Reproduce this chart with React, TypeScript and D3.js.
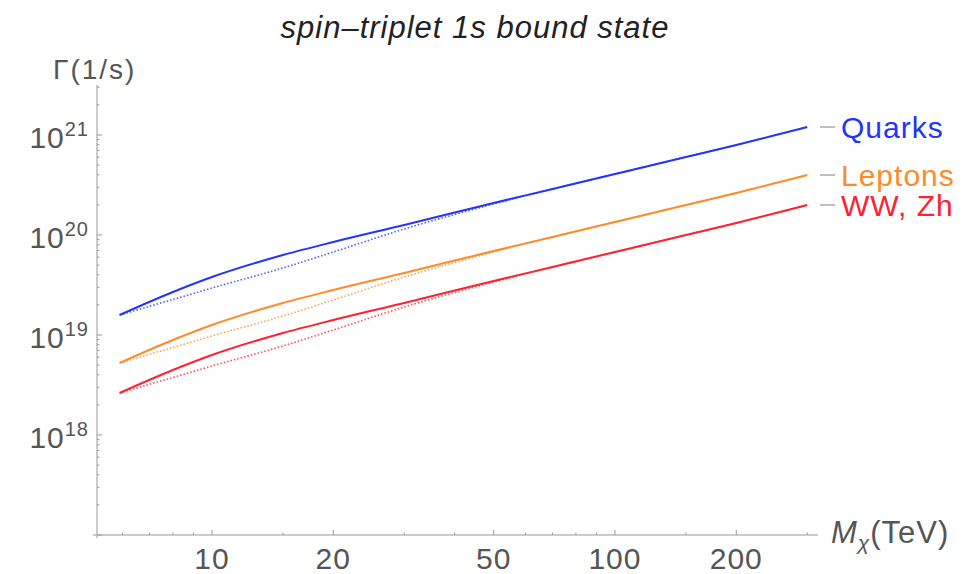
import React from "react";
import * as d3 from "d3";

// Mass points (TeV)
const masses = [5.9, 8, 10, 15, 20, 30, 50, 70, 100, 150, 200, 300];
// log10 of decay rate Γ (1/s)
const quarksSolid = [19.2, 19.43, 19.58, 19.8, 19.93, 20.1, 20.32, 20.46, 20.61, 20.78, 20.9, 21.08];
const quarksDotted = [19.2, 19.355, 19.47, 19.67, 19.83, 20.06, 20.31, 20.46, 20.61, 20.78, 20.9, 21.08];
const leptonsSolid = [18.72, 18.95, 19.1, 19.32, 19.45, 19.62, 19.84, 19.98, 20.13, 20.3, 20.42, 20.6];
const leptonsDotted = [18.72, 18.875, 18.99, 19.19, 19.35, 19.58, 19.83, 19.98, 20.13, 20.3, 20.42, 20.6];
const wwSolid = [18.42, 18.65, 18.8, 19.02, 19.15, 19.32, 19.54, 19.68, 19.83, 20.0, 20.12, 20.3];
const wwDotted = [18.42, 18.575, 18.69, 18.89, 19.05, 19.28, 19.53, 19.68, 19.83, 20.0, 20.12, 20.3];

const seriesNames = ["Quarks", "Leptons", "WW, Zh"];
const seriesColors = ["#2434ff", "#ff8a2a", "#ff2030"];

const xMajorTicks = [10, 20, 50, 100, 200];
const xMinorTicks = [6, 7, 8, 9, 15, 30, 40, 60, 70, 80, 90, 150, 300];
const yMajorExps = [17, 18, 19, 20, 21];

export default function App() {
  const W = 977, H = 574;
  const x = d3.scaleLog().domain([5.185, 319]).range([97, 818]);
  const y = d3.scaleLog().domain([1e17, Math.pow(10, 21.5)]).range([535, 85]);

  const solids = [quarksSolid, leptonsSolid, wwSolid];
  const dotteds = [quarksDotted, leptonsDotted, wwDotted];

  const line = d3
    .line<[number, number]>()
    .x((d) => x(d[0]))
    .y((d) => y(Math.pow(10, d[1])))
    .curve(d3.curveMonotoneX);

  const mk = (arr: number[]) => masses.map((m, i) => [m, arr[i]] as [number, number]);

  const yMinor: number[] = [];
  for (let e = 17; e <= 21; e++) {
    for (let k = 2; k <= 9; k++) {
      const v = k * Math.pow(10, e);
      if (v <= Math.pow(10, 21.5)) yMinor.push(v);
    }
  }

  const axisColor = "#bbbbbb";
  const tickColor = "#999999";
  const labelColor = "#555555";
  const font = "'Liberation Sans', Arial, sans-serif";

  const lastVals = solids.map((s) => s[s.length - 1]);

  return (
    <svg width={W} height={H} style={{ position: "absolute", left: 0, top: 0 }} fontFamily={font}>
      <rect x={0} y={0} width={W} height={H} fill="#fff" />
      <text x={475} y={38} textAnchor="middle" fontSize={31} letterSpacing={1} fontStyle="italic" fill="#222">
        spin–triplet 1s bound state
      </text>

      {/* axes */}
      <line x1={93} x2={818} y1={535} y2={535} stroke={axisColor} strokeWidth={1.5} />
      <line x1={97} x2={97} y1={85} y2={538} stroke={axisColor} strokeWidth={1.5} />

      {/* x ticks */}
      {xMajorTicks.map((t) => (
        <g key={"xm" + t}>
          <line x1={x(t)} x2={x(t)} y1={535} y2={530} stroke={tickColor} strokeWidth={1} />
          <text x={x(t)} y={569} textAnchor="middle" fontSize={30} letterSpacing={1} fill={labelColor}>
            {t}
          </text>
        </g>
      ))}
      {xMinorTicks.map((t) => (
        <line key={"xn" + t} x1={x(t)} x2={x(t)} y1={535} y2={532.5} stroke={tickColor} strokeWidth={1} />
      ))}

      {/* y ticks */}
      {yMajorExps.map((e) => (
        <g key={"ym" + e}>
          <line x1={97} x2={102} y1={y(Math.pow(10, e))} y2={y(Math.pow(10, e))} stroke={tickColor} strokeWidth={1} />
          {e >= 18 && (
            <text x={89} y={y(Math.pow(10, e)) + 13} textAnchor="end" fontSize={30} letterSpacing={1} fill={labelColor}>
              <tspan>10</tspan>
              <tspan dy={-12} fontSize={20}>
                {e}
              </tspan>
            </text>
          )}
        </g>
      ))}
      {yMinor.map((v, i) => (
        <line key={"yn" + i} x1={97} x2={99.5} y1={y(v)} y2={y(v)} stroke={tickColor} strokeWidth={1} />
      ))}

      {/* axis labels */}
      <text x={53} y={79} fontSize={28} letterSpacing={2} fill={labelColor}>
        Γ(1/s)
      </text>
      <text x={831} y={543} fontSize={31} letterSpacing={1} fill={labelColor}>
        <tspan fontStyle="italic">M</tspan>
        <tspan fontStyle="italic" fontSize={21} dy={7}>
          χ
        </tspan>
        <tspan dy={-7}>(TeV)</tspan>
      </text>

      {/* curves */}
      {dotteds.map((s, i) => (
        <path
          key={"d" + i}
          d={line(mk(s)) || ""}
          fill="none"
          stroke={seriesColors[i]}
          strokeWidth={1.6}
          strokeDasharray="1.5,2"
          opacity={0.8}
        />
      ))}
      {solids.map((s, i) => (
        <path key={"s" + i} d={line(mk(s)) || ""} fill="none" stroke={seriesColors[i]} strokeWidth={2} />
      ))}

      {/* labels */}
      {seriesNames.map((n, i) => {
        const yy = y(Math.pow(10, lastVals[i]));
        return (
          <g key={"l" + n}>
            <line x1={820} x2={835} y1={yy} y2={yy} stroke="#aaaaaa" strokeWidth={1.5} />
            <text x={841} y={yy + 11} fontSize={30} letterSpacing={1} fill={seriesColors[i]}>
              {n}
            </text>
          </g>
        );
      })}
    </svg>
  );
}
